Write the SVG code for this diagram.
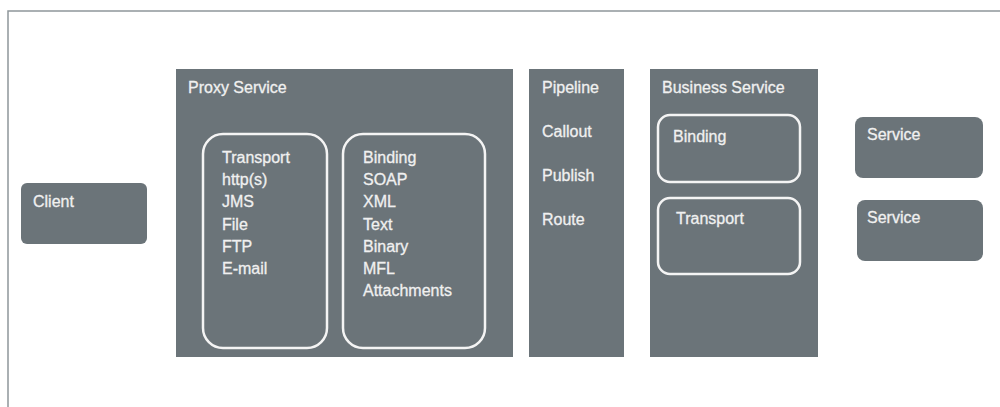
<svg xmlns="http://www.w3.org/2000/svg" width="1000" height="407" viewBox="0 0 1000 407">
<style>
.box{fill:#6b7479;}
.inner{fill:none;stroke:#f4f4f4;stroke-width:2.5;}
.t{font-family:"Liberation Sans",Arial,sans-serif;font-size:16px;fill:#f0f0f0;stroke:#f0f0f0;stroke-width:0.3;}
</style>
<rect x="0" y="0" width="1000" height="407" fill="#ffffff"/>
<rect x="8" y="11" width="1000" height="410" fill="none" stroke="#8f979b" stroke-width="1.5"/>
<g id="client">
<rect class="box" x="21" y="183" width="126" height="61" rx="6"/>
<text class="t" x="33" y="207">Client</text>
</g>
<g id="proxy-service">
<rect class="box" x="176" y="69" width="337" height="288"/>
<text class="t" x="188" y="93">Proxy Service</text>
<rect class="inner" x="203" y="134" width="124" height="214" rx="20"/>
<text class="t" x="222" y="163">Transport</text>
<text class="t" x="222" y="185">http(s)</text>
<text class="t" x="222" y="207">JMS</text>
<text class="t" x="222" y="230">File</text>
<text class="t" x="222" y="252">FTP</text>
<text class="t" x="222" y="274">E-mail</text>
<rect class="inner" x="343" y="134" width="142" height="214" rx="20"/>
<text class="t" x="363" y="163">Binding</text>
<text class="t" x="363" y="185">SOAP</text>
<text class="t" x="363" y="207">XML</text>
<text class="t" x="363" y="230">Text</text>
<text class="t" x="363" y="252">Binary</text>
<text class="t" x="363" y="274">MFL</text>
<text class="t" x="363" y="296">Attachments</text>
</g>
<g id="pipeline">
<rect class="box" x="529" y="69" width="95" height="288"/>
<text class="t" x="542" y="93">Pipeline</text>
<text class="t" x="542" y="137">Callout</text>
<text class="t" x="542" y="181">Publish</text>
<text class="t" x="542" y="225">Route</text>
</g>
<g id="business-service">
<rect class="box" x="650" y="69" width="168" height="288"/>
<text class="t" x="662" y="93">Business Service</text>
<rect class="inner" x="658" y="115" width="142" height="67" rx="12"/>
<text class="t" x="673" y="142">Binding</text>
<rect class="inner" x="658" y="198" width="142" height="76" rx="12"/>
<text class="t" x="676" y="224">Transport</text>
</g>
<g id="service-1">
<rect class="box" x="855" y="117" width="128" height="61" rx="8"/>
<text class="t" x="867" y="140">Service</text>
</g>
<g id="service-2">
<rect class="box" x="857" y="200" width="126" height="61" rx="8"/>
<text class="t" x="867" y="223">Service</text>
</g>
<g id="connectors"></g>
</svg>
